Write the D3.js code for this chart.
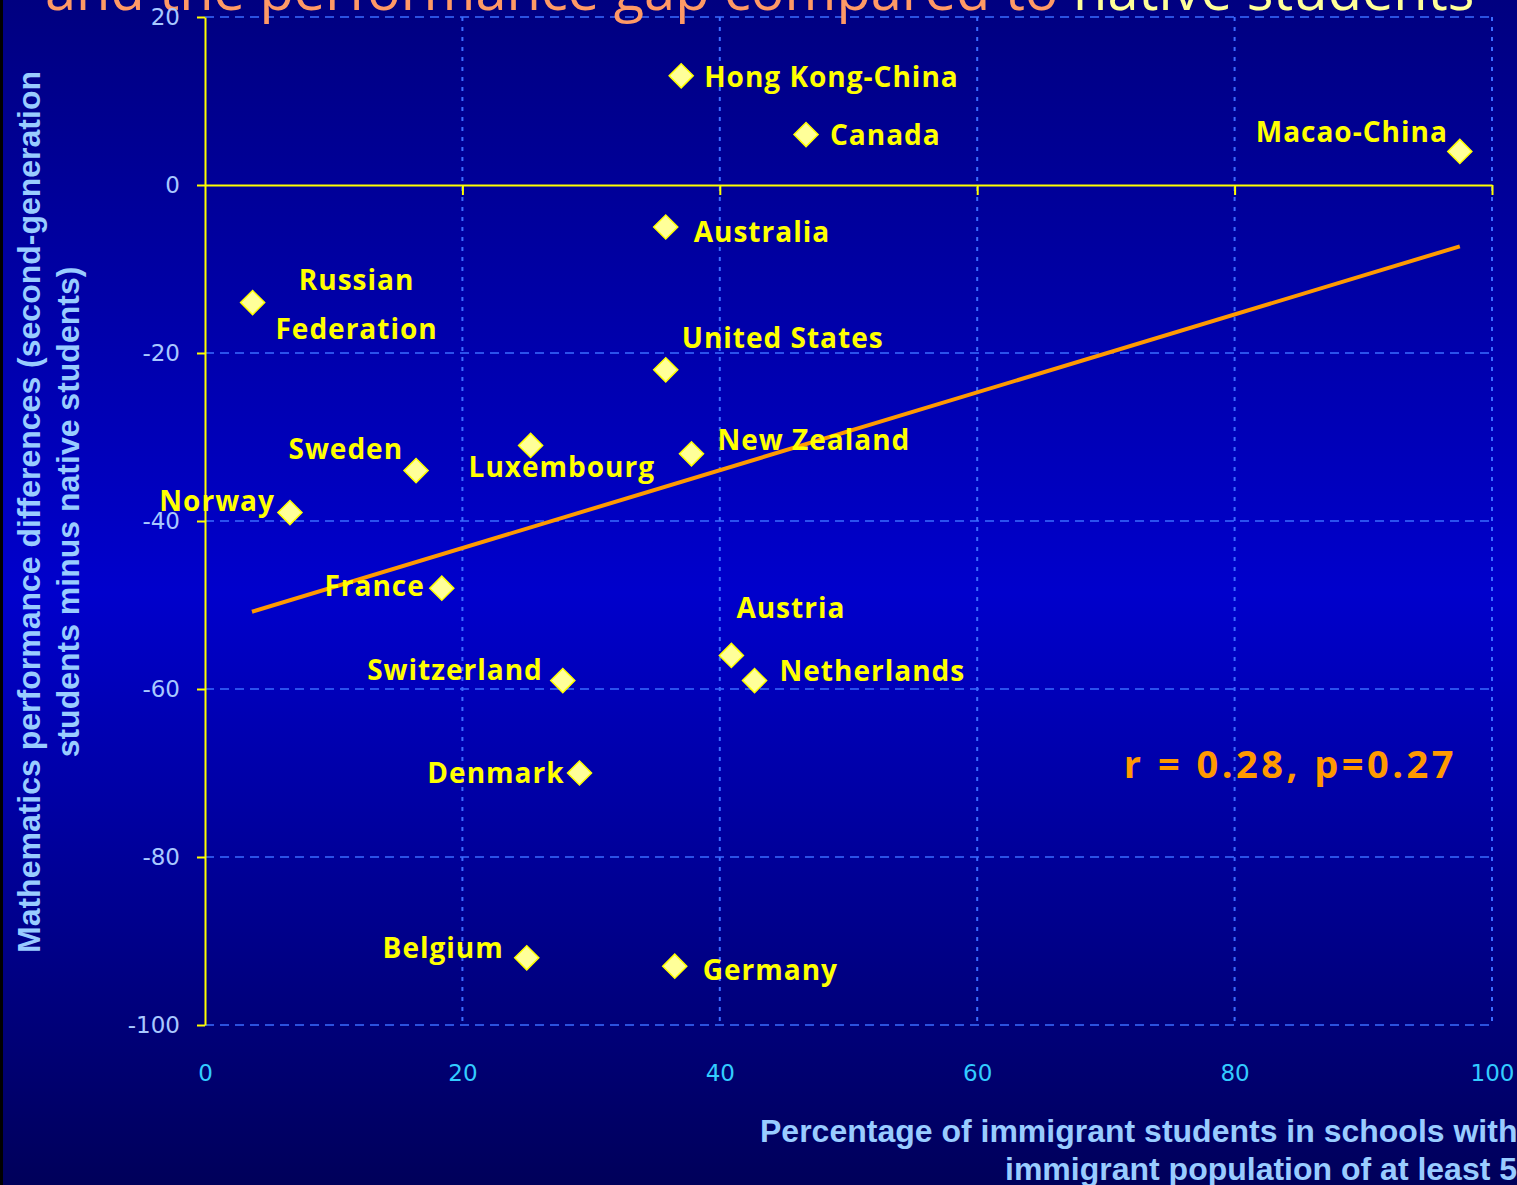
<!DOCTYPE html>
<html>
<head>
<meta charset="utf-8">
<script src="https://cdn.jsdelivr.net/npm/d3@7"></script>
<style>
  html, body { margin: 0; padding: 0; background: #000066; overflow: hidden; }
  svg { display: block; }
</style>
</head>
<body>
<div id="chart"></div>
<script>
// Countries, share of immigrant students (%) and maths gap (second-generation minus native)
const countries = ["Hong Kong-China", "Canada", "Macao-China", "Australia", "Russian Federation",
  "United States", "New Zealand", "Luxembourg", "Sweden", "Norway", "France", "Austria",
  "Netherlands", "Switzerland", "Denmark", "Belgium", "Germany"];
const immigrantShare = [37.0, 46.7, 97.5, 35.8, 3.7, 35.8, 37.8, 25.3, 16.4, 6.6, 18.4, 40.9,
  42.7, 27.8, 29.1, 25.0, 36.5];
const mathGap = [13, 6, 4, -5, -14, -22, -32, -31, -34, -39, -48, -56, -59, -59, -70, -92, -93];

// Fitted trend line, evaluated at the smallest and largest share
const trendX = [3.65, 97.5];
const trendY = [-50.8, -7.3];
const statText = "r = 0.28, p=0.27";

const xTicks = [0, 20, 40, 60, 80, 100];
const yTicks = [20, 0, -20, -40, -60, -80, -100];

// Label placement relative to each marker (layout only)
const labelPlace = {
  "Hong Kong-China": { dx: 23, dy: 0, anchor: "start" },
  "Canada": { dx: 24, dy: -1, anchor: "start" },
  "Macao-China": { dx: -12, dy: -20, anchor: "end" },
  "Australia": { dx: 28, dy: 4, anchor: "start" },
  "Russian Federation": { dx: 104, dy: 0, anchor: "middle", lines: ["Russian", "Federation"], lineDy: [-24, 25] },
  "United States": { dx: 16, dy: -33, anchor: "start" },
  "New Zealand": { dx: 26, dy: -15, anchor: "start" },
  "Luxembourg": { dx: -62, dy: 21, anchor: "start" },
  "Sweden": { dx: -13, dy: -23, anchor: "end" },
  "Norway": { dx: -15, dy: -13, anchor: "end" },
  "France": { dx: -17, dy: -3, anchor: "end" },
  "Austria": { dx: 5, dy: -48, anchor: "start" },
  "Netherlands": { dx: 25, dy: -11, anchor: "start" },
  "Switzerland": { dx: -20, dy: -12, anchor: "end" },
  "Denmark": { dx: -15, dy: -1, anchor: "end" },
  "Belgium": { dx: -23, dy: -11, anchor: "end" },
  "Germany": { dx: 28, dy: 3, anchor: "start" }
};

const W = 1517, H = 1185;
const labelFont = "'Open Sans', 'DejaVu Sans', sans-serif";
const titleFont = "'Liberation Sans', Arial, sans-serif";

const svg = d3.select("#chart").append("svg")
  .attr("width", W).attr("height", H);

// Background gradient
const defs = svg.append("defs");
const grad = defs.append("linearGradient").attr("id", "bg")
  .attr("x1", 0).attr("y1", 0).attr("x2", 0).attr("y2", 1);
grad.append("stop").attr("offset", "0%").attr("stop-color", "#000080");
grad.append("stop").attr("offset", "50%").attr("stop-color", "#0000cc");
grad.append("stop").attr("offset", "100%").attr("stop-color", "#00005a");
svg.append("rect").attr("width", W).attr("height", H).attr("fill", "url(#bg)");
svg.append("rect").attr("width", 3).attr("height", H).attr("fill", "#000000");

const x = d3.scaleLinear().domain([0, 100]).range([205, 1492]);
const y = d3.scaleLinear().domain([-100, 20]).range([1025, 17]);

// Grid lines
const grid = svg.append("g");
grid.selectAll("line.v").data(xTicks.filter(d => d > 0)).join("line")
  .attr("x1", d => x(d)).attr("x2", d => x(d))
  .attr("y1", y(20)).attr("y2", y(-100))
  .attr("stroke", "#3a6cff").attr("stroke-width", 2)
  .attr("stroke-dasharray", "4,6");
grid.selectAll("line.h").data(yTicks.filter(d => d !== 0)).join("line")
  .attr("x1", x(0)).attr("x2", x(100))
  .attr("y1", d => y(d)).attr("y2", d => y(d))
  .attr("stroke", "#3a6cff").attr("stroke-width", 1.5)
  .attr("stroke-dasharray", "9,6");

// Title (partly outside the frame)
const title = svg.append("text")
  .attr("x", 45).attr("y", 10)
  .attr("font-family", "'Open Sans', sans-serif")
  .attr("font-size", 56)
  .attr("fill", "#ff9966");
title.append("tspan").text("and the performance gap compared to ");
title.append("tspan").attr("fill", "#ffff99").text("native students");

// Y axis
const yAxis = svg.append("g")
  .attr("transform", `translate(${x(0)},0)`)
  .call(d3.axisLeft(y).tickValues(yTicks).tickSize(8).tickSizeOuter(0).tickPadding(17).tickFormat(d3.format("d")));
yAxis.select(".domain").attr("stroke", "#ffff00").attr("stroke-width", 2);
yAxis.selectAll(".tick line").attr("stroke", "#ffff00").attr("stroke-width", 2);
yAxis.selectAll(".tick text")
  .attr("fill", "#a8c8ff")
  .attr("font-family", "'DejaVu Sans', sans-serif")
  .attr("font-size", 23)
  .text(d => d < 0 ? "-" + Math.abs(d) : d);

// X axis drawn along y = 0
const xAxis = svg.append("g")
  .attr("transform", `translate(0,${y(0)})`)
  .call(d3.axisBottom(x).tickValues(xTicks.filter(d => d > 0)).tickSize(10).tickSizeOuter(0).tickFormat(""));
xAxis.select(".domain").attr("stroke", "#ffff00").attr("stroke-width", 2);
xAxis.selectAll(".tick line").attr("stroke", "#ffff00").attr("stroke-width", 2);

// X tick labels along the bottom
const xLabels = svg.append("g")
  .attr("transform", `translate(0,${y(-100) + 30})`)
  .call(d3.axisBottom(x).tickValues(xTicks).tickSize(0).tickPadding(10).tickFormat(d3.format("d")));
xLabels.select(".domain").remove();
xLabels.selectAll(".tick text")
  .attr("fill", "#33ccff")
  .attr("font-family", "'DejaVu Sans', sans-serif")
  .attr("font-size", 23);

// Axis titles
const yTitle = svg.append("text")
  .attr("transform", "translate(40,512) rotate(-90)")
  .attr("text-anchor", "middle")
  .attr("font-family", titleFont).attr("font-weight", "bold")
  .attr("font-size", 32).attr("fill", "#99ccff");
yTitle.append("tspan").attr("x", 0).attr("dy", 0).text("Mathematics performance differences (second-generation");
yTitle.append("tspan").attr("x", 0).attr("dy", 39).text("students minus native students)");

svg.append("text")
  .attr("x", 760).attr("y", 1142)
  .attr("font-family", titleFont).attr("font-weight", "bold")
  .attr("font-size", 32).attr("fill", "#99ccff")
  .text("Percentage of immigrant students in schools with an");
svg.append("text")
  .attr("x", 1005).attr("y", 1180)
  .attr("font-family", titleFont).attr("font-weight", "bold")
  .attr("font-size", 32).attr("fill", "#99ccff")
  .text("immigrant population of at least 50%");

// Footnote line running off the bottom edge
svg.append("text")
  .attr("x", 22).attr("y", 1208)
  .attr("font-family", "'Open Sans', sans-serif").attr("font-weight", "bold")
  .attr("font-size", 30).attr("fill", "#ffff00")
  .text("Where immigrant students are concentrated, the gap is not larger — Source: OECD, PISA 2003, Table 4.1");

// Trend line
const line = d3.line().x(d => x(d[0])).y(d => y(d[1]));
svg.append("path")
  .datum(d3.zip(trendX, trendY))
  .attr("d", line)
  .attr("fill", "none")
  .attr("stroke", "#ff9900")
  .attr("stroke-width", 4);

// Points
const pts = countries.map((c, i) => ({ name: c, xv: immigrantShare[i], yv: mathGap[i] }));
const diamond = d3.symbol().type(d3.symbolSquare).size(290);
svg.append("g").selectAll("path").data(pts).join("path")
  .attr("d", diamond)
  .attr("transform", d => `translate(${x(d.xv)},${y(d.yv)}) rotate(45)`)
  .attr("fill", "#ffff99")
  .attr("stroke", "#ffff00")
  .attr("stroke-width", 1.5);

// Country labels
const labels = svg.append("g")
  .attr("font-family", labelFont).attr("font-weight", "bold")
  .attr("font-size", 28).attr("letter-spacing", 1)
  .attr("fill", "#ffff00");
pts.forEach(d => {
  const p = labelPlace[d.name];
  const t = labels.append("text")
    .attr("x", x(d.xv) + p.dx)
    .attr("y", y(d.yv) + p.dy)
    .attr("text-anchor", p.anchor)
    .attr("dominant-baseline", "central");
  if (p.lines) {
    p.lines.forEach((ln, k) => {
      t.append("tspan").attr("x", x(d.xv) + p.dx)
        .attr("y", y(d.yv) + p.lineDy[k]).text(ln);
    });
  } else {
    t.text(d.name);
  }
});

// Correlation note
svg.append("text")
  .attr("x", 1457).attr("y", 763)
  .attr("text-anchor", "end").attr("dominant-baseline", "central")
  .attr("font-family", labelFont).attr("font-weight", "bold")
  .attr("font-size", 38).attr("letter-spacing", 3.5)
  .attr("fill", "#ff9900")
  .text(statText);
</script>
</body>
</html>
